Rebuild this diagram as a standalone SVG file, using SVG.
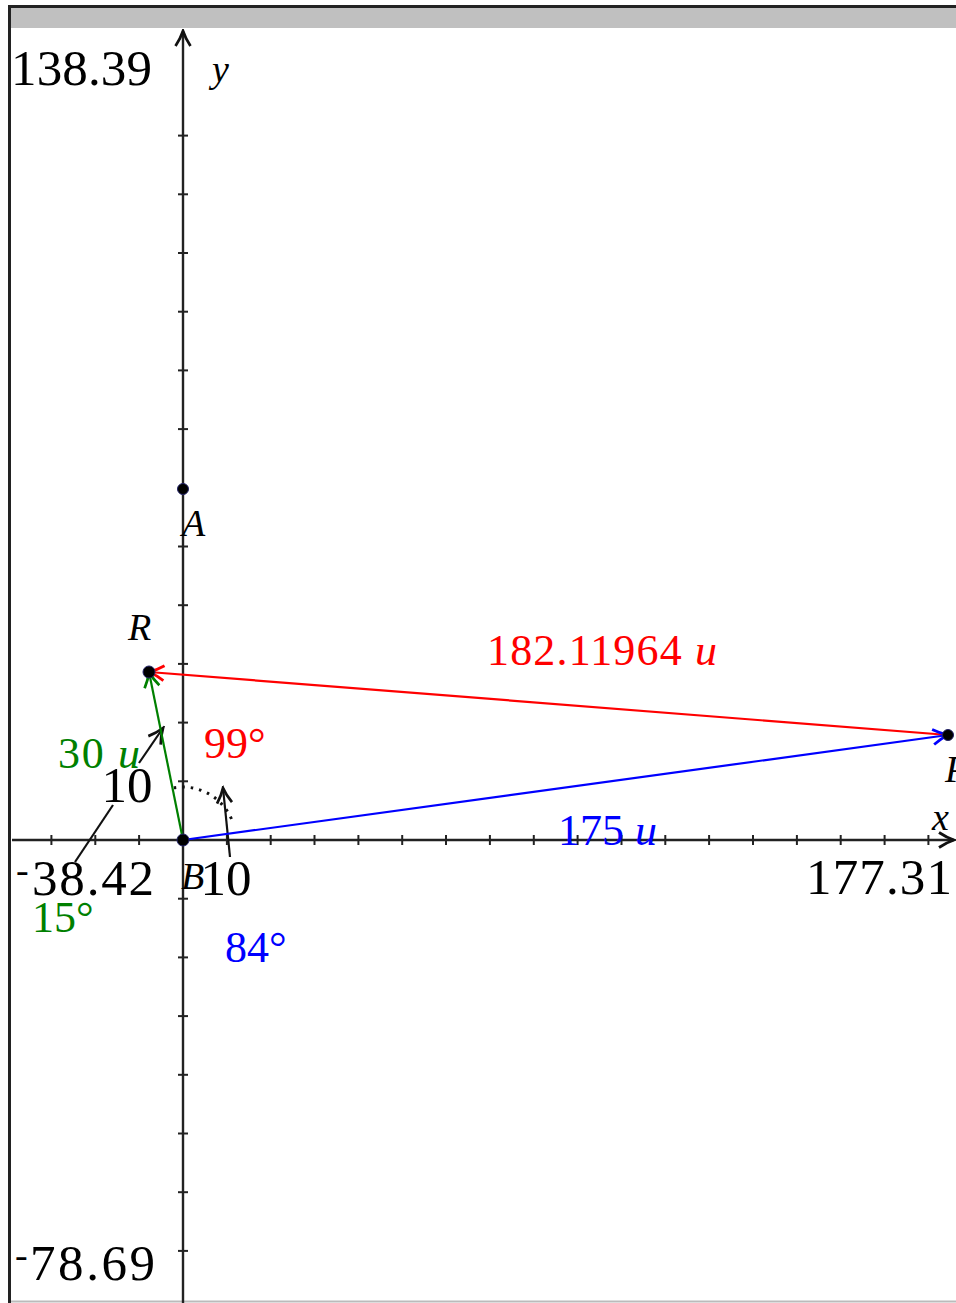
<svg xmlns="http://www.w3.org/2000/svg" width="956" height="1303" viewBox="0 0 956 1303">
<defs>
<style>
.ax{stroke:#222;stroke-width:2.4;fill:none}
.tk{stroke:#222;stroke-width:2}
.num{font-family:"Liberation Serif",serif;font-size:51px;fill:#000}
.lbl{font-family:"Liberation Serif",serif;font-size:38px;font-style:italic;fill:#000}
.c{font-family:"Liberation Serif",serif;font-size:44px}
.it{font-style:italic}
.pt{fill:#000;stroke:#226;stroke-width:1}
</style>
<marker id="ak" markerUnits="userSpaceOnUse" markerWidth="20" markerHeight="20" refX="14" refY="8" orient="auto" viewBox="0 0 16 16">
<path d="M2,2 Q8,6 14,8 Q8,10 2,14" fill="none" stroke="#111" stroke-width="2.2"/>
</marker>
<marker id="ar" markerUnits="userSpaceOnUse" markerWidth="20" markerHeight="20" refX="14" refY="8" orient="auto" viewBox="0 0 16 16">
<path d="M2,2 Q8,6 14,8 Q8,10 2,14" fill="none" stroke="#ff0000" stroke-width="2.2"/>
</marker>
<marker id="ag" markerUnits="userSpaceOnUse" markerWidth="20" markerHeight="20" refX="14" refY="8" orient="auto" viewBox="0 0 16 16">
<path d="M2,2 Q8,6 14,8 Q8,10 2,14" fill="none" stroke="#008000" stroke-width="2.2"/>
</marker>
<marker id="ab" markerUnits="userSpaceOnUse" markerWidth="20" markerHeight="20" refX="14" refY="8" orient="auto" viewBox="0 0 16 16">
<path d="M2,2 Q8,6 14,8 Q8,10 2,14" fill="none" stroke="#0000ff" stroke-width="2.2"/>
</marker>
</defs>
<rect width="956" height="1303" fill="#fff"/>
<g id="frame">
<rect x="8" y="8" width="948" height="20" fill="#c0c0c0"/>
<line x1="8" y1="6.5" x2="956" y2="6.5" stroke="#222" stroke-width="3"/>
<line x1="9.5" y1="5" x2="9.5" y2="1303" stroke="#222" stroke-width="3"/>
<line x1="11" y1="1301.5" x2="956" y2="1301.5" stroke="#bbb" stroke-width="2"/>
</g>
<g id="axes">
<line class="ax" x1="183" y1="1303" x2="183" y2="31" marker-end="url(#ak)"/>
<line class="ax" x1="12" y1="840" x2="954" y2="840" marker-end="url(#ak)"/>
<g class="tk">
<line x1="178" y1="135.6" x2="188" y2="135.6"/><line x1="178" y1="194.3" x2="188" y2="194.3"/><line x1="178" y1="253" x2="188" y2="253"/><line x1="178" y1="311.7" x2="188" y2="311.7"/><line x1="178" y1="370.4" x2="188" y2="370.4"/><line x1="178" y1="429.1" x2="188" y2="429.1"/><line x1="178" y1="487.8" x2="188" y2="487.8"/><line x1="178" y1="546.5" x2="188" y2="546.5"/><line x1="178" y1="605.2" x2="188" y2="605.2"/><line x1="178" y1="663.9" x2="188" y2="663.9"/><line x1="178" y1="722.6" x2="188" y2="722.6"/><line x1="178" y1="781.3" x2="188" y2="781.3"/><line x1="178" y1="898.7" x2="188" y2="898.7"/><line x1="178" y1="957.4" x2="188" y2="957.4"/><line x1="178" y1="1016.1" x2="188" y2="1016.1"/><line x1="178" y1="1074.8" x2="188" y2="1074.8"/><line x1="178" y1="1133.5" x2="188" y2="1133.5"/><line x1="178" y1="1192.2" x2="188" y2="1192.2"/><line x1="178" y1="1250.9" x2="188" y2="1250.9"/>
<line x1="51.4" y1="835" x2="51.4" y2="845"/><line x1="95.3" y1="835" x2="95.3" y2="845"/><line x1="139.1" y1="835" x2="139.1" y2="845"/><line x1="226.9" y1="835" x2="226.9" y2="845"/><line x1="270.7" y1="835" x2="270.7" y2="845"/><line x1="314.5" y1="835" x2="314.5" y2="845"/><line x1="358.4" y1="835" x2="358.4" y2="845"/><line x1="402.2" y1="835" x2="402.2" y2="845"/><line x1="446" y1="835" x2="446" y2="845"/><line x1="489.9" y1="835" x2="489.9" y2="845"/><line x1="533.8" y1="835" x2="533.8" y2="845"/><line x1="577.6" y1="835" x2="577.6" y2="845"/><line x1="621.5" y1="835" x2="621.5" y2="845"/><line x1="665.3" y1="835" x2="665.3" y2="845"/><line x1="709.1" y1="835" x2="709.1" y2="845"/><line x1="753" y1="835" x2="753" y2="845"/><line x1="796.9" y1="835" x2="796.9" y2="845"/><line x1="840.7" y1="835" x2="840.7" y2="845"/><line x1="884.6" y1="835" x2="884.6" y2="845"/><line x1="928.4" y1="835" x2="928.4" y2="845"/>
</g>
<text class="num" x="11" y="85" textLength="141" lengthAdjust="spacing">138.39</text>
<text class="num" x="15" y="1280"><tspan font-size="38" dy="-12">-</tspan><tspan x="30" dy="12" textLength="125" lengthAdjust="spacing">78.69</tspan></text>
<text class="num" x="16" y="895"><tspan font-size="38" dy="-12">-</tspan><tspan x="32" dy="12" textLength="122" lengthAdjust="spacing">38.42</tspan></text>
<text class="num" x="806" y="894" textLength="146" lengthAdjust="spacing">177.31</text>
<text class="num" x="226" y="895" text-anchor="middle">10</text>
<text class="num" x="127" y="802" text-anchor="middle">10</text>
<text class="lbl" x="212" y="82" font-size="42">y</text>
<text class="lbl" x="932" y="830" font-size="42">x</text>
</g>
<g id="connectors">
<line x1="75" y1="862" x2="113" y2="805" stroke="#111" stroke-width="2.2"/>
<line x1="139" y1="763" x2="163" y2="728" stroke="#111" stroke-width="2.2" marker-end="url(#ak)"/>
<line x1="230" y1="857" x2="223" y2="788" stroke="#111" stroke-width="2.2" marker-end="url(#ak)"/>
<path d="M173.8,787.8 A53,53 0 0 1 233,823" fill="none" stroke="#111" stroke-width="3" stroke-dasharray="2.5,6"/>
<line x1="183" y1="840" x2="149" y2="672" stroke="#008000" stroke-width="2.2" marker-end="url(#ag)"/>
<line x1="948" y1="735" x2="149" y2="672" stroke="#ff0000" stroke-width="2.2" marker-end="url(#ar)"/>
<line x1="183" y1="840" x2="948" y2="735" stroke="#0000ff" stroke-width="2.2" marker-end="url(#ab)"/>
</g>
<g id="pointA"><circle class="pt" cx="183" cy="489" r="5.5"/><text class="lbl" x="182" y="536">A</text></g>
<g id="pointR"><circle class="pt" cx="149" cy="672" r="6"/><text class="lbl" x="128" y="640">R</text></g>
<g id="pointB"><circle class="pt" cx="183" cy="840" r="6"/><text class="lbl" x="181" y="889">B</text></g>
<g id="pointP"><circle class="pt" cx="948" cy="735" r="5.5"/><text class="lbl" x="945" y="782">P</text></g>
<g id="labels">
<text class="c" x="487" y="665" fill="#ff0000" textLength="230" lengthAdjust="spacing">182.11964 <tspan class="it">u</tspan></text>
<text class="c" x="58" y="768" fill="#008000" textLength="82" lengthAdjust="spacing">30 <tspan class="it">u</tspan></text>
<text class="c" x="204" y="758" fill="#ff0000">99°</text>
<text class="c" x="32" y="932" fill="#008000">15°</text>
<text class="c" x="225" y="962" fill="#0000ff">84°</text>
<text class="c" x="558" y="845" fill="#0000ff" textLength="99" lengthAdjust="spacing">175 <tspan class="it">u</tspan></text>
</g>
</svg>
